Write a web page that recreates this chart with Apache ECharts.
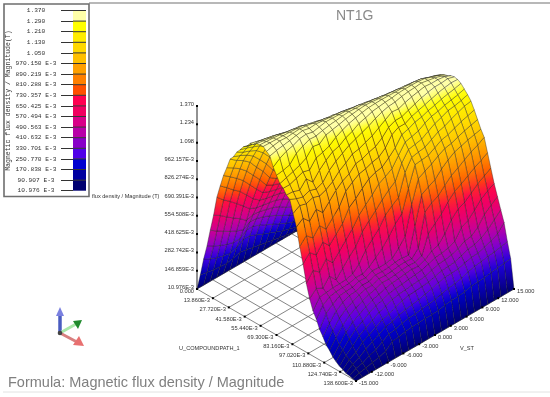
<!DOCTYPE html>
<html><head><meta charset="utf-8">
<style>html,body{margin:0;padding:0;background:#fff}#c{width:550px;height:397px}</style>
<script src="https://cdn.jsdelivr.net/npm/echarts@6/dist/echarts.min.js"></script>
</head><body><div id="c"></div>
<script>
// Axis tick labels
const legendLabels = ['1.370','1.290','1.210','1.130','1.050','970.150 E-3','890.219 E-3','810.288 E-3','730.357 E-3','650.425 E-3','570.494 E-3','490.563 E-3','410.632 E-3','330.701 E-3','250.770 E-3','170.838 E-3','90.907 E-3','10.976 E-3'];
const legendColors = ['#FFFFA8','#FFFF00','#FFEC00','#FFD800','#FFC000','#FFA000','#FF8000','#FF5000','#FF0050','#F00060','#D80088','#B800A8','#8800C8','#5000E8','#0000D0','#0000A0','#000070'];
const zTicks = [1370,1234,1098,962.157,826.274,690.391,554.508,418.625,282.742,146.859,10.976];
const zTickLabels = ['1.370','1.234','1.098','962.157E-3','826.274E-3','690.391E-3','554.508E-3','418.625E-3','282.742E-3','146.859E-3','10.976E-3'];
const uTicks = [0,13.86,27.72,41.58,55.44,69.3,83.16,97.02,110.88,124.74,138.6];
const uTickLabels = ['0.000','13.860E-3','27.720E-3','41.580E-3','55.440E-3','69.300E-3','83.160E-3','97.020E-3','110.880E-3','124.740E-3','138.600E-3'];
const vTicks = [-15,-12,-9,-6,-3,0,3,6,9,12,15];
const vTickLabels = ['-15.000','-12.000','-9.000','-6.000','-3.000','0.000','3.000','6.000','9.000','12.000','15.000'];
// Surface: flux density (mT), one row per V station, 49 U stations in each
const zRows = [
[11,130,262,372,505,630,778,876,968,1040,1118,1150,1198,1230,1266,1284,1320,1326,1347,1352,1354,1332,1312,1244,1198,1150,1129,1094,1075,985,898,768,654,523,423,347,300,238,198,150,124,90,68,50,40,25,22,14,11],
[11,120,235,345,470,600,730,835,930,1010,1080,1130,1170,1215,1250,1280,1305,1325,1338,1348,1352,1344,1325,1280,1205,1165,1128,1090,1052,1015,935,820,708,590,470,420,375,330,272,232,192,152,128,102,84,65,46,28,11],
[11,110,215,320,440,560,690,790,890,975,1050,1105,1150,1195,1235,1265,1292,1315,1330,1345,1350,1352,1332,1305,1218,1182,1146,1072,1036,1000,885,775,663,550,445,426,407,368,330,292,255,218,180,142,110,85,60,36,11],
[11,105,200,300,410,525,645,750,845,930,1010,1070,1125,1175,1215,1250,1280,1305,1325,1340,1348,1348,1340,1318,1275,1200,1165,1128,1055,1018,945,838,730,618,506,433,416,400,367,333,300,264,228,192,156,120,85,48,11],
[11,100,190,285,385,490,600,695,785,870,945,1015,1080,1135,1180,1220,1258,1290,1312,1332,1345,1352,1350,1340,1300,1226,1151,1076,1038,1000,892,784,675,563,450,434,419,404,388,357,326,293,256,219,183,146,98,60,11],
[11,112,205,285,365,450,550,640,725,810,885,955,1020,1085,1140,1190,1232,1270,1300,1325,1342,1355,1358,1345,1322,1282,1212,1135,1058,1019,946,838,730,618,506,436,422,407,392,378,349,320,288,249,210,171,132,75,11],
[11,125,240,320,395,465,530,600,670,740,810,880,950,1025,1095,1155,1210,1255,1290,1318,1338,1350,1346,1332,1318,1272,1225,1180,1120,1050,1000,892,784,675,562,450,436,423,409,395,368,341,314,280,240,200,160,120,11],
[11,118,235,322,392,458,520,585,650,712,775,830,890,965,1040,1110,1172,1225,1268,1300,1325,1340,1350,1342,1330,1312,1244,1215,1160,1100,1040,980,872,730,612,497,434,420,407,394,380,353,326,296,253,210,167,124,11],
[11,105,215,300,375,445,510,575,635,695,755,815,875,945,1015,1080,1140,1195,1245,1285,1312,1330,1344,1352,1340,1322,1280,1230,1190,1132,1065,1018,910,802,694,570,460,444,428,414,400,372,345,318,276,230,184,136,11],
[11,95,190,275,355,430,500,565,625,685,745,805,865,925,990,1055,1115,1170,1225,1265,1298,1322,1340,1350,1345,1332,1306,1262,1220,1170,1112,1050,958,850,745,622,498,440,425,410,396,382,354,326,294,243,192,141,11],
[11,85,170,250,330,410,480,545,610,670,730,790,850,905,965,1030,1090,1150,1205,1250,1285,1315,1335,1348,1352,1344,1325,1282,1240,1180,1120,1060,1000,896,792,673,540,442,428,414,400,386,358,330,305,250,195,142,11],
[11,75,150,225,300,375,450,520,590,650,715,775,835,890,950,1010,1070,1130,1185,1235,1275,1305,1330,1345,1355,1352,1338,1312,1260,1200,1140,1080,1020,948,844,745,598,450,436,422,408,393,365,337,308,260,205,148,11],
[11,65,130,200,275,350,425,495,560,625,690,750,810,870,930,990,1050,1110,1165,1215,1260,1295,1320,1340,1352,1358,1350,1325,1280,1220,1154,1090,1030,975,888,786,665,500,440,425,412,398,370,342,314,272,210,148,11],
[11,55,115,180,250,320,395,465,535,600,665,730,790,850,910,970,1030,1090,1145,1195,1240,1280,1310,1335,1350,1362,1358,1342,1306,1250,1190,1130,1070,1004,924,820,715,560,434,420,406,392,378,348,318,284,218,150,11],
[11,45,100,160,225,295,370,440,510,575,640,705,765,825,885,945,1005,1065,1120,1175,1225,1265,1298,1325,1345,1358,1360,1348,1325,1282,1240,1200,1117,1075,1033,979,875,772,627,474,428,412,396,364,332,300,231,161,11],
[11,38,85,140,200,270,345,415,485,550,615,680,740,800,860,920,980,1040,1098,1155,1208,1250,1285,1315,1338,1352,1362,1355,1338,1312,1262,1226,1186,1145,1104,1060,1020,930,826,712,565,450,415,380,346,312,244,168,11],
[11,30,70,120,180,245,315,385,455,520,585,650,715,775,835,895,955,1015,1075,1130,1185,1235,1272,1305,1330,1350,1360,1358,1342,1306,1262,1225,1200,1157,1113,1070,1026,958,854,750,611,465,419,384,349,314,251,169,11],
[11,25,60,105,160,225,295,365,430,495,560,625,690,750,810,870,930,990,1050,1108,1165,1218,1258,1295,1322,1345,1358,1366,1355,1325,1282,1250,1222,1170,1124,1078,1032,982,878,774,655,522,428,392,354,318,262,176,11],
[11,20,50,90,140,205,275,345,410,475,540,605,670,730,790,850,910,970,1030,1088,1145,1200,1245,1285,1315,1340,1358,1368,1362,1338,1300,1265,1232,1200,1153,1107,1060,1014,930,823,717,597,450,410,371,331,281,186,11],
[11,18,40,75,125,185,255,325,390,455,520,585,650,710,770,830,890,950,1010,1070,1125,1180,1230,1272,1305,1335,1355,1368,1365,1348,1318,1280,1250,1222,1182,1135,1088,1040,970,868,764,646,524,438,392,346,294,192,11],
[11,15,32,62,110,165,235,305,370,435,500,565,630,690,750,810,870,930,990,1050,1105,1160,1215,1260,1298,1328,1352,1366,1370,1358,1330,1295,1262,1232,1200,1150,1100,1050,1000,896,792,669,547,445,397,348,300,194,11],
[11,13,26,50,95,150,215,285,350,415,480,545,610,670,730,790,850,910,970,1030,1088,1142,1198,1245,1288,1320,1345,1360,1360,1352,1340,1310,1278,1248,1222,1174,1121,1068,1016,927,823,708,596,484,418,364,311,204,11],
[11,12,20,40,80,135,195,265,330,395,460,525,590,650,710,770,830,890,950,1010,1068,1125,1180,1230,1275,1305,1325,1342,1350,1352,1340,1320,1290,1258,1228,1194,1140,1086,1032,958,854,750,650,550,450,382,314,210,11],
[11,11,16,32,68,120,180,245,310,375,440,505,570,630,690,750,810,870,930,990,1050,1108,1165,1215,1255,1285,1310,1325,1335,1345,1345,1328,1298,1268,1240,1212,1155,1100,1044,980,880,780,683,590,497,408,325,216,11],
[11,11,13,25,55,105,165,225,290,355,420,485,550,610,670,730,790,850,910,970,1030,1090,1150,1200,1240,1270,1290,1305,1310,1325,1330,1325,1310,1282,1255,1222,1170,1113,1056,1010,910,810,710,627,543,462,335,222,11]
];
const U_MAX = 138.6, V_MIN = -15, V_MAX = 15, Z_MIN = 10.976, Z_MAX = 1370;
const nU = zRows[0].length, nV = zRows.length;
const uAt = i => U_MAX * i / (nU - 1);
const vAt = j => V_MIN + (V_MAX - V_MIN) * j / (nV - 1);

// parallel projection of (U, V, Z) onto the plane of the hidden cartesian axes
function project(u, v, z) {
  const a = u / U_MAX, b = (v - V_MIN) / (V_MAX - V_MIN), c = (z - Z_MIN) / (Z_MAX - Z_MIN);
  return [197 + 159 * a + 158 * b, 289 + 92 * a - 92 * b - 183 * c];
}
function depth(u, v, z) {
  return u / U_MAX - (v - V_MIN) / (V_MAX - V_MIN) + (z - Z_MIN) / (Z_MAX - Z_MIN);
}
const ascending = legendColors.slice().reverse();
const colorOf = z => {
  let t = Math.max(0, Math.min(1, (z - Z_MIN) / (Z_MAX - Z_MIN)));
  if (t > .9) t = Math.min(1, .9 + (t - .9) * 1.5);
  return echarts.color.lerp(t, ascending);
};

const cells = [];
for (let j = 0; j < nV - 1; j++) for (let i = 0; i < nU - 1; i++) {
  const m = (zRows[j][i] + zRows[j][i + 1] + zRows[j + 1][i] + zRows[j + 1][i + 1]) / 4;
  cells.push([i, j, m, depth(uAt(i + .5), vAt(j + .5), m)]);
}
cells.sort((a, b) => a[3] - b[3]);

const floorLines = [];
uTicks.forEach(u => floorLines.push([u, V_MIN, u, V_MAX]));
vTicks.forEach(v => floorLines.push([0, v, U_MAX, v]));

const tickMarks = [];
zTicks.forEach((z, k) => tickMarks.push([0, V_MIN, z, zTickLabels[k], 'z']));
uTicks.forEach((u, k) => tickMarks.push([u, V_MIN, Z_MIN, uTickLabels[k], 'u']));
vTicks.forEach((v, k) => tickMarks.push([U_MAX, v, Z_MIN, vTickLabels[k], 'v']));

const chart = echarts.init(document.getElementById('c'), null, {renderer: 'canvas'});
const bandIdx = legendColors.map((c, k) => [0, k]);
chart.setOption({
  animation: false,
  backgroundColor: '#fff',
  title: [
    {text: 'NT1G', left: 331, top: 4, textStyle: {fontFamily: 'Liberation Sans', fontSize: 14, fontWeight: 'normal', color: '#8a8a8a'}},
    {text: 'Formula: Magnetic flux density / Magnitude', left: 3, top: 370, textStyle: {fontFamily: 'Liberation Sans', fontSize: 14.5, fontWeight: 'normal', color: '#808080'}}
  ],
  grid: [
    {left: 0, right: 0, top: 0, bottom: 0},
    {left: 73, width: 13, top: 10.5, height: 180.2}
  ],
  xAxis: [
    {type: 'value', min: 0, max: 550, show: false, gridIndex: 0},
    {type: 'value', min: 0, max: 1, show: false, gridIndex: 1}
  ],
  yAxis: [
    {type: 'value', min: 0, max: 397, inverse: true, show: false, gridIndex: 0},
    {type: 'value', min: 0, max: 17, interval: 1, inverse: true, gridIndex: 1, position: 'left',
     name: 'Magnetic flux density / Magnitude(T)', nameLocation: 'middle', nameRotate: 90, nameGap: 58,
     nameTextStyle: {fontFamily: 'Liberation Mono', fontSize: 6.5, color: '#333'},
     axisLine: {show: false},
     axisTick: {show: true, length: 12, lineStyle: {color: '#333', width: 1}},
     splitLine: {show: false},
     axisLabel: {show: true, showMinLabel: true, showMaxLabel: true, hideOverlap: false, margin: 37, align: 'center', padding: [5, 0, 0, 0], fontFamily: 'Liberation Mono', fontSize: 6.2, color: '#333',
       formatter: v => legendLabels[v]}}
  ],
  graphic: [
    {type: 'line', shape: {x1: 89, y1: 3, x2: 550, y2: 3}, style: {stroke: '#a0a0a0', lineWidth: 1.5}, silent: true},
    {type: 'line', shape: {x1: 3, y1: 392, x2: 550, y2: 392}, style: {stroke: '#e2e2e2', lineWidth: 1}, silent: true},
    {type: 'rect', shape: {x: 4, y: 4, width: 85, height: 192.5}, style: {fill: 'none', stroke: '#6e6e6e', lineWidth: 1.6}, silent: true},
    {type: 'text', x: 92, y: 193, style: {text: 'flux density / Magnitude (T)', font: '5.6px "Liberation Sans"', fill: '#333'}, silent: true},
    {type: 'text', x: 179, y: 345, style: {text: 'U_COMPOUNDPATH_1', font: '5.6px "Liberation Sans"', fill: '#333'}, silent: true},
    {type: 'text', x: 460, y: 345, style: {text: 'V_ST', font: '5.6px "Liberation Sans"', fill: '#333'}, silent: true},
    // triad
    {type: 'line', shape: {x1: 60, y1: 333, x2: 60, y2: 314}, style: {stroke: '#4a5cc0', lineWidth: 3.5}, silent: true},
    {type: 'polygon', shape: {points: [[60, 307], [56, 316], [64, 316]]}, style: {fill: '#7a80e0'}, silent: true},
    {type: 'line', shape: {x1: 60, y1: 333, x2: 76, y2: 324}, style: {stroke: '#a8e8a8', lineWidth: 3}, silent: true},
    {type: 'polygon', shape: {points: [[82, 320], [73, 321], [78, 329]]}, style: {fill: '#1f8a2c'}, silent: true},
    {type: 'line', shape: {x1: 60, y1: 333, x2: 77, y2: 342}, style: {stroke: '#d88080', lineWidth: 3}, silent: true},
    {type: 'polygon', shape: {points: [[84, 346], [79, 336], [73, 345]]}, style: {fill: '#e87070'}, silent: true},
    {type: 'circle', shape: {cx: 60, cy: 333, r: 2.3}, style: {fill: '#444'}, silent: true}
  ],
  series: [
    { // legend colour bands
      type: 'custom', coordinateSystem: 'cartesian2d', xAxisIndex: 1, yAxisIndex: 1, silent: true, z: 5, clip: false,
      data: bandIdx,
      renderItem: (p, api) => {
        const k = api.value(1);
        const a = api.coord([0, k]), b = api.coord([1, k + 1]);
        return {type: 'group', children: [
          {type: 'rect', shape: {x: a[0], y: a[1], width: b[0] - a[0], height: b[1] - a[1]}, style: {fill: legendColors[k]}},
          {type: 'line', shape: {x1: a[0], y1: a[1], x2: b[0], y2: a[1]}, style: {stroke: '#333', lineWidth: 1}}
        ]};
      }
    },
    { // floor grid
      type: 'custom', coordinateSystem: 'cartesian2d', silent: true, z: 2, clip: false,
      data: floorLines,
      renderItem: (p, api) => {
        const a = api.coord(project(api.value(0), api.value(1), Z_MIN));
        const b = api.coord(project(api.value(2), api.value(3), Z_MIN));
        return {type: 'line', shape: {x1: a[0], y1: a[1], x2: b[0], y2: b[1]}, style: {stroke: '#666', lineWidth: .8}};
      }
    },
    { // z axis line
      type: 'custom', coordinateSystem: 'cartesian2d', silent: true, z: 2, clip: false,
      data: [[Z_MIN, Z_MAX]],
      renderItem: (p, api) => {
        const a = api.coord(project(0, V_MIN, api.value(0)));
        const b = api.coord(project(0, V_MIN, api.value(1)));
        return {type: 'line', shape: {x1: a[0], y1: a[1], x2: b[0], y2: b[1]}, style: {stroke: '#777', lineWidth: 1.6}};
      }
    },
    { // surface cells, back to front
      type: 'custom', coordinateSystem: 'cartesian2d', silent: true, z: 3, clip: false,
      data: cells,
      renderItem: (p, api) => {
        const i = api.value(0), j = api.value(1);
        const pt = (a, b) => api.coord(project(uAt(a), vAt(b), zRows[b][a]));
        const A = pt(i, j), B = pt(i + 1, j), C = pt(i + 1, j + 1), D = pt(i, j + 1);
        const z0 = (zRows[j][i] + zRows[j + 1][i]) / 2, z1 = (zRows[j][i + 1] + zRows[j + 1][i + 1]) / 2;
        const fill = new echarts.graphic.LinearGradient(
          (A[0] + D[0]) / 2, (A[1] + D[1]) / 2, (B[0] + C[0]) / 2, (B[1] + C[1]) / 2,
          [{offset: 0, color: colorOf(z0)}, {offset: 1, color: colorOf(z1)}], true);
        return {type: 'polygon', shape: {points: [A, B, C, D]},
          style: {fill: fill, stroke: 'rgba(25,25,25,0.62)', lineWidth: .6}};
      }
    },
    { // axis ticks and tick labels
      type: 'custom', coordinateSystem: 'cartesian2d', silent: true, z: 4, clip: false,
      data: tickMarks.map((t, k) => [t[0], t[1], t[2], k]),
      renderItem: (p, api) => {
        const t = tickMarks[api.value(3)];
        const c = api.coord(project(api.value(0), api.value(1), api.value(2)));
        const kind = t[4];
        const lx = kind === 'v' ? c[0] + 3 : c[0] - 3;
        const ly = kind === 'z' ? c[1] - 1.5 : c[1] + 2.5;
        return {type: 'group', children: [
          {type: 'rect', shape: {x: c[0] - 1, y: c[1] - 1, width: 2, height: 2}, style: {fill: '#000'}},
          {type: 'text', style: {text: t[3], x: lx, y: ly, align: kind === 'v' ? 'left' : 'right', verticalAlign: 'middle', font: '5.7px "Liberation Sans"', fill: '#333'}}
        ]};
      }
    }
  ]
});
</script></body></html>
